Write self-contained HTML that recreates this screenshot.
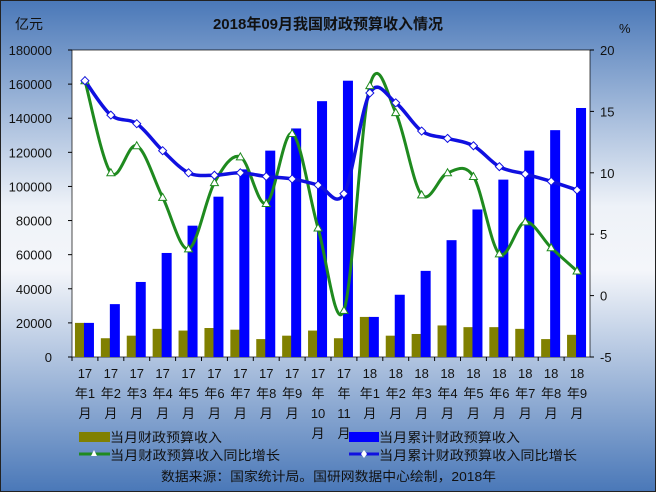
<!DOCTYPE html>
<html><head><meta charset="utf-8"><style>
body{margin:0;width:656px;height:492px;overflow:hidden;font-family:"Liberation Sans","Noto Sans CJK SC",sans-serif}
</style></head><body>
<svg id="s" width="656" height="492" xmlns="http://www.w3.org/2000/svg" font-family="Liberation Sans, Noto Sans CJK SC, sans-serif">
<defs><linearGradient id="bg" x1="0" y1="0" x2="0" y2="1">
<stop offset="0" stop-color="#4a78b8"/><stop offset="0.42" stop-color="#eef2f8"/><stop offset="0.55" stop-color="#f4f6fa"/><stop offset="1" stop-color="#4a78b8"/></linearGradient></defs>
<rect x="0.5" y="0.5" width="655" height="491" fill="url(#bg)" stroke="#222"/>
<rect x="72" y="50" width="518" height="307" fill="#fff" stroke="#000" stroke-width="0.7"/>
<text x="328" y="29" text-anchor="middle" font-size="15" font-weight="bold" fill="#111">2018年09月我国财政预算收入情况</text>
<text x="15" y="29" font-size="14" fill="#111">亿元</text>
<text x="619" y="33" font-size="13" fill="#111">%</text>
<g id="g"></g>
</svg>
<script>
var g=document.getElementById('g'),h='';
var X0=72,W=518,Y0=50,Y1=357,n=20,cw=W/n;
function yL(v){return Y1-v/180000*307}
function yR(v){return Y1-(v+5)/25*307}
for(var i=0;i<=9;i++){var v=i*20000,y=yL(v);h+='<text x="52" y="'+(y+5)+'" text-anchor="end" font-size="13" fill="#111">'+v+'</text><line x1="68" x2="72" y1="'+y+'" y2="'+y+'" stroke="#000"/>';}
for(var i=0;i<=5;i++){var v=-5+i*5,y=yR(v);h+='<text x="600" y="'+(y+5)+'" font-size="13" fill="#111">'+v+'</text><line x1="590" x2="594" y1="'+y+'" y2="'+y+'" stroke="#000"/>';}
var a=[20000,11000,12500,16500,15500,17000,16000,10500,12500,15500,11000,23500,12500,13500,18500,17500,17500,16500,10500,13000];
var b=[20000,31000,44000,61000,77000,94000,110000,121000,134000,150000,162000,23500,36500,50500,68500,86500,104000,121000,133000,146000];
var gr=[17.5,10,12.2,8,3.8,9.2,11.3,7.5,13.2,5.5,-1.2,17.1,14.9,8.2,10,9.7,3.4,6,3.9,2];
var bl=[17.5,14.7,14,11.8,10,9.8,10,9.7,9.5,9,8.3,16.5,15.7,13.4,12.8,12.2,10.5,9.9,9.3,8.6];
var lab=['17年1月','17年2月','17年3月','17年4月','17年5月','17年6月','17年7月','17年8月','17年9月','17年10月','17年11月','18年1月','18年2月','18年3月','18年4月','18年5月','18年6月','18年7月','18年8月','18年9月'];
for(var i=0;i<n;i++){var c=X0+cw*(i+0.5);
h+='<rect x="'+(c-10)+'" y="'+yL(a[i])+'" width="10" height="'+(Y1-yL(a[i]))+'" fill="#808000"/>';
h+='<rect x="'+(c-1)+'" y="'+yL(b[i])+'" width="10" height="'+(Y1-yL(b[i]))+'" fill="#0000ff"/>';
h+='<line x1="'+(X0+cw*i)+'" x2="'+(X0+cw*i)+'" y1="357" y2="361" stroke="#000"/>';
var p=lab[i].match(/(\d+)年(\d+)月/);
if(p[2].length==1){h+='<text text-anchor="middle" font-size="13" fill="#111"><tspan x="'+c+'" y="378">'+p[1]+'</tspan><tspan x="'+c+'" y="398">年'+p[2]+'</tspan><tspan x="'+c+'" y="418">月</tspan></text>';}
else{h+='<text text-anchor="middle" font-size="13" fill="#111"><tspan x="'+c+'" y="378">'+p[1]+'</tspan><tspan x="'+c+'" y="398">年</tspan><tspan x="'+c+'" y="418">'+p[2]+'</tspan><tspan x="'+c+'" y="438">月</tspan></text>';}
}
function path(d){var P=d.map(function(v,i){return [X0+cw*(i+0.5),yR(v)]});var s='M'+P[0];for(var i=0;i<P.length-1;i++){var p0=P[i-1]||P[i],p1=P[i],p2=P[i+1],p3=P[i+2]||p2;
var c1=[p1[0]+(p2[0]-p0[0])/6,p1[1]+(p2[1]-p0[1])/6],c2=[p2[0]-(p3[0]-p1[0])/6,p2[1]-(p3[1]-p1[1])/6];s+='C'+c1+' '+c2+' '+p2;}return s;}
h+='<path d="'+path(gr)+'" fill="none" stroke="#1f8a1f" stroke-width="3"/>';
h+='<path d="'+path(bl)+'" fill="none" stroke="#1010e0" stroke-width="3.5"/>';
for(var i=0;i<n;i++){var c=X0+cw*(i+0.5),y=yR(gr[i]);h+='<path d="M'+c+' '+(y-4)+'L'+(c+4)+' '+(y+3)+'L'+(c-4)+' '+(y+3)+'Z" fill="#fff" stroke="#1f8a1f"/>';
y=yR(bl[i]);h+='<path d="M'+c+' '+(y-4)+'L'+(c+4)+' '+y+'L'+c+' '+(y+4)+'L'+(c-4)+' '+y+'Z" fill="#fff" stroke="#1010e0"/>';}
h+='<rect x="79" y="432" width="31" height="10" fill="#808000"/><text x="110" y="442" font-size="13" fill="#111" textLength="112" lengthAdjust="spacingAndGlyphs">当月财政预算收入</text>';
h+='<rect x="349" y="432" width="30" height="10" fill="#0000ff"/><text x="379" y="442" font-size="13" fill="#111" textLength="141" lengthAdjust="spacingAndGlyphs">当月累计财政预算收入</text>';
h+='<line x1="79" x2="110" y1="454" y2="454" stroke="#1f8a1f" stroke-width="3"/><path d="M94 450L97 456L91 456Z" fill="#fff"/><text x="110" y="460" font-size="13" fill="#111" textLength="170" lengthAdjust="spacingAndGlyphs">当月财政预算收入同比增长</text>';
h+='<line x1="349" x2="379" y1="454" y2="454" stroke="#1010e0" stroke-width="3"/><path d="M364 450L367 454L364 458L361 454Z" fill="#fff"/><text x="379" y="460" font-size="13" fill="#111" textLength="198" lengthAdjust="spacingAndGlyphs">当月累计财政预算收入同比增长</text>';
h+='<text x="161" y="481" font-size="13" fill="#111" textLength="335" lengthAdjust="spacingAndGlyphs">数据来源：国家统计局。国研网数据中心绘制，2018年</text>';
g.innerHTML=h;
</script>
</body></html>
